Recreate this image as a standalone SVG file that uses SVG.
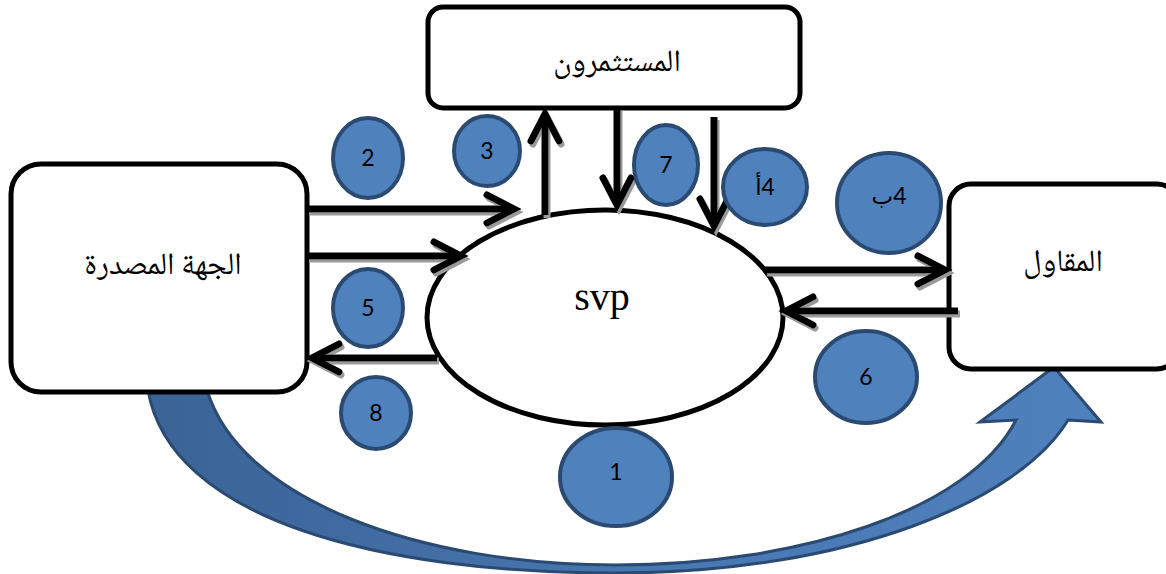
<svg xmlns="http://www.w3.org/2000/svg" width="1166" height="574" viewBox="0 0 1166 574">
  <style>
    .box { fill: #ffffff; stroke: #000000; stroke-width: 5; }
    .flow { fill: none; stroke: #000000; stroke-width: 7; marker-end: url(#chev); }
    .step { fill: #4F81BD; stroke: #2B4A72; stroke-width: 4; }
    .num { font-family: "Lato", "DejaVu Sans", sans-serif; font-size: 23px; fill: #000000; text-anchor: middle; }
    .ar { font-family: "Noto Naskh Arabic", "DejaVu Sans", serif; font-size: 31px; fill: #000000; text-anchor: middle; }
  </style>
  <defs>
    <marker id="chev" markerUnits="userSpaceOnUse" viewBox="-40 -25 50 50" markerWidth="50" markerHeight="50" refX="0" refY="0" orient="auto" overflow="visible">
      <path d="M-27,-14 L0,0 L-27,14" fill="none" stroke="#000000" stroke-width="7" stroke-linecap="round"/>
    </marker>
    <filter id="shade" filterUnits="userSpaceOnUse" x="0" y="0" width="1166" height="574">
      <feOffset in="SourceAlpha" dx="2" dy="3" result="off"/>
      <feFlood flood-color="#9a9a9a"/>
      <feComposite in2="off" operator="in" result="sh"/>
      <feMerge><feMergeNode in="sh"/><feMergeNode in="SourceGraphic"/></feMerge>
    </filter>
    <linearGradient id="bandFill" x1="148" y1="0" x2="1101" y2="0" gradientUnits="userSpaceOnUse">
      <stop offset="0" stop-color="#3B6396"/>
      <stop offset="0.55" stop-color="#4878B2"/>
      <stop offset="1" stop-color="#4F81BD"/>
    </linearGradient>
  </defs>

  <!-- large curved arrow from issuer to contractor -->
  <g id="curved-arrow">
    <path d="M148,390 C170,520 380,573 616,573 C850,573 1020,500 1068,420 L1101,422 L1054,367 L980,422 L1016,420 C970,510 800,565 616,565 C420,565 240,500 207,390 Z" fill="url(#bandFill)" stroke="#2B4A72" stroke-width="3" stroke-linejoin="miter"/>
  </g>

  <g id="issuer">
    <rect class="box" x="11" y="164" width="296" height="228" rx="30"/>
    <text class="ar" x="163" y="274">الجهة المصدرة</text>
  </g>

  <g id="investors">
    <rect class="box" x="428" y="7" width="372" height="101" rx="15"/>
    <text class="ar" x="617" y="71">المستثمرون</text>
  </g>

  <g id="contractor">
    <rect class="box" x="949" y="184" width="230" height="185" rx="22"/>
    <text class="ar" x="1063" y="271">المقاول</text>
  </g>

  <g id="svp">
    <ellipse class="box" cx="605" cy="317.5" rx="178" ry="107.5"/>
    <text x="602" y="310" font-family="Liberation Serif, serif" font-size="40" text-anchor="middle">svp</text>
  </g>

  <g id="connectors" filter="url(#shade)">
    <path class="flow" d="M307,209 L514,209"/>
    <path class="flow" d="M307,256 L461,256"/>
    <path class="flow" d="M545,215 L545,114"/>
    <path class="flow" d="M617,108 L617,205"/>
    <path class="flow" d="M714,117 L714,226"/>
    <path class="flow" d="M765,270 L945,270"/>
    <path class="flow" d="M958,311 L786,311"/>
    <path class="flow" d="M437,358 L312,358"/>
  </g>

  <g id="step-2"><ellipse class="step" cx="368" cy="158" rx="35" ry="40"/><text class="num" x="368" y="166">2</text></g>
  <g id="step-3"><ellipse class="step" cx="487" cy="151" rx="33" ry="35"/><text class="num" x="487" y="159">3</text></g>
  <g id="step-7"><ellipse class="step" cx="666" cy="165" rx="32" ry="40"/><text class="num" x="666" y="173">7</text></g>
  <g id="step-4a"><ellipse class="step" cx="765" cy="187" rx="42" ry="38"/><text class="num" x="765" y="195" direction="rtl">4أ</text></g>
  <g id="step-4b"><ellipse class="step" cx="889" cy="203" rx="52" ry="50"/><text class="num" x="889" y="204" direction="rtl">4ب</text></g>
  <g id="step-5"><ellipse class="step" cx="368" cy="308" rx="35" ry="39"/><text class="num" x="368" y="316">5</text></g>
  <g id="step-8"><ellipse class="step" cx="376" cy="413" rx="35" ry="36"/><text class="num" x="376" y="421">8</text></g>
  <g id="step-6"><ellipse class="step" cx="866" cy="377" rx="51" ry="46"/><text class="num" x="866" y="385">6</text></g>
  <g id="step-1"><ellipse class="step" cx="616" cy="477" rx="56" ry="49"/><text class="num" x="616" y="480">1</text></g>
</svg>
